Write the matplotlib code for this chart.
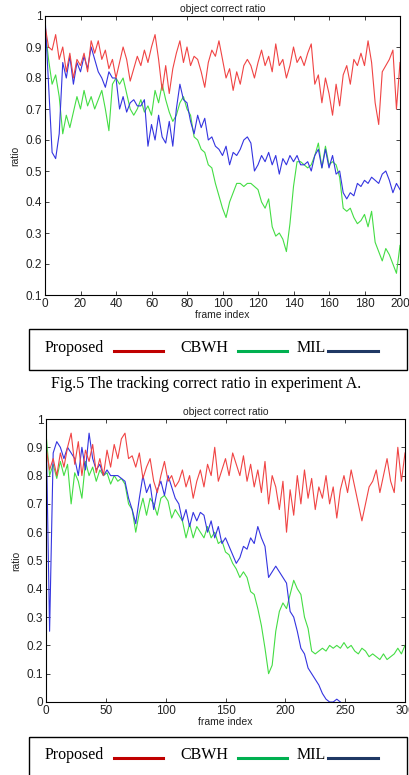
import matplotlib
matplotlib.use('Agg')
import matplotlib.pyplot as plt
import numpy as np
from matplotlib.patches import Rectangle

# ---- experiment A (frames 0..200, every 2 frames)
frames_a = np.arange(0, 201, 2)
proposed_a = [0.97, 0.90, 0.89, 0.94, 0.86, 0.90, 0.82, 0.88, 0.80, 0.86,
              0.84, 0.88, 0.82, 0.92, 0.88, 0.92, 0.86, 0.89, 0.83, 0.86,
              0.80, 0.85, 0.90, 0.86, 0.79, 0.83, 0.87, 0.84, 0.89, 0.85,
              0.90, 0.94, 0.86, 0.76, 0.84, 0.75, 0.83, 0.88, 0.92, 0.85,
              0.90, 0.84, 0.87, 0.86, 0.82, 0.77, 0.85, 0.89, 0.87, 0.92,
              0.86, 0.80, 0.83, 0.76, 0.82, 0.78, 0.84, 0.86, 0.84, 0.80,
              0.85, 0.89, 0.84, 0.87, 0.82, 0.91, 0.84, 0.86, 0.80, 0.84,
              0.90, 0.85, 0.87, 0.84, 0.88, 0.91, 0.78, 0.81, 0.72, 0.80,
              0.75, 0.68, 0.78, 0.71, 0.81, 0.84, 0.78, 0.86, 0.84, 0.88,
              0.84, 0.92, 0.85, 0.72, 0.65, 0.82, 0.84, 0.86, 0.89, 0.70,
              0.85]
cbwh_a = [0.96, 0.86, 0.78, 0.81, 0.74, 0.62, 0.68, 0.64, 0.69, 0.74,
          0.70, 0.76, 0.71, 0.74, 0.70, 0.73, 0.76, 0.70, 0.63, 0.78,
          0.80, 0.78, 0.80, 0.75, 0.70, 0.68, 0.70, 0.73, 0.69, 0.71,
          0.68, 0.76, 0.72, 0.78, 0.73, 0.69, 0.66, 0.68, 0.72, 0.74,
          0.70, 0.68, 0.61, 0.60, 0.57, 0.56, 0.52, 0.51, 0.46, 0.42,
          0.38, 0.35, 0.40, 0.43, 0.46, 0.46, 0.45, 0.46, 0.46, 0.45,
          0.44, 0.40, 0.38, 0.41, 0.32, 0.29, 0.30, 0.28, 0.24, 0.33,
          0.45, 0.53, 0.53, 0.52, 0.51, 0.52, 0.55, 0.59, 0.51, 0.58,
          0.52, 0.53, 0.52, 0.48, 0.38, 0.37, 0.38, 0.35, 0.33, 0.34,
          0.36, 0.32, 0.37, 0.27, 0.24, 0.21, 0.25, 0.23, 0.20, 0.17,
          0.26]
mil_a = [1.00, 0.78, 0.56, 0.54, 0.62, 0.85, 0.80, 0.87, 0.78, 0.85,
         0.82, 0.87, 0.83, 0.90, 0.86, 0.82, 0.80, 0.77, 0.82, 0.80,
         0.80, 0.70, 0.74, 0.69, 0.72, 0.73, 0.71, 0.71, 0.73, 0.58,
         0.65, 0.60, 0.68, 0.61, 0.59, 0.66, 0.58, 0.70, 0.78, 0.73,
         0.72, 0.66, 0.62, 0.68, 0.64, 0.67, 0.60, 0.61, 0.58, 0.57,
         0.55, 0.58, 0.52, 0.56, 0.55, 0.57, 0.60, 0.61, 0.59, 0.50,
         0.52, 0.55, 0.53, 0.56, 0.52, 0.55, 0.49, 0.54, 0.52, 0.55,
         0.53, 0.55, 0.52, 0.52, 0.53, 0.50, 0.55, 0.57, 0.51, 0.57,
         0.51, 0.55, 0.49, 0.50, 0.43, 0.41, 0.43, 0.42, 0.46, 0.45,
         0.47, 0.46, 0.48, 0.47, 0.46, 0.49, 0.50, 0.47, 0.43, 0.46,
         0.44]

# ---- second experiment (frames 0..300, every 3 frames)
frames_b = np.arange(0, 301, 3)
proposed_b = [0.90, 0.82, 0.86, 0.80, 0.88, 0.83, 0.90, 0.95, 0.84, 0.92,
              0.80, 0.89, 0.85, 0.91, 0.81, 0.86, 0.80, 0.89, 0.83, 0.91,
              0.86, 0.93, 0.95, 0.86, 0.87, 0.83, 0.88, 0.79, 0.83, 0.86,
              0.78, 0.74, 0.80, 0.85, 0.78, 0.80, 0.76, 0.78, 0.82, 0.76,
              0.80, 0.72, 0.78, 0.82, 0.76, 0.84, 0.80, 0.90, 0.78, 0.82,
              0.86, 0.80, 0.88, 0.84, 0.80, 0.87, 0.78, 0.84, 0.76, 0.82,
              0.74, 0.85, 0.70, 0.80, 0.76, 0.68, 0.78, 0.60, 0.75, 0.66,
              0.80, 0.70, 0.82, 0.72, 0.79, 0.68, 0.76, 0.72, 0.80, 0.70,
              0.76, 0.65, 0.75, 0.80, 0.74, 0.82, 0.76, 0.70, 0.64, 0.70,
              0.76, 0.78, 0.82, 0.74, 0.80, 0.86, 0.78, 0.74, 0.90, 0.78,
              0.88]
cbwh_b = [0.95, 0.80, 0.84, 0.79, 0.85, 0.80, 0.84, 0.70, 0.81, 0.78,
          0.72, 0.85, 0.80, 0.83, 0.78, 0.82, 0.80, 0.81, 0.77, 0.80,
          0.78, 0.79, 0.77, 0.70, 0.68, 0.60, 0.67, 0.72, 0.66, 0.72,
          0.70, 0.66, 0.72, 0.73, 0.71, 0.65, 0.68, 0.66, 0.64, 0.58,
          0.63, 0.58, 0.62, 0.60, 0.58, 0.62, 0.58, 0.60, 0.56, 0.57,
          0.53, 0.52, 0.49, 0.47, 0.44, 0.46, 0.44, 0.39, 0.38, 0.33,
          0.27, 0.19, 0.10, 0.13, 0.25, 0.32, 0.35, 0.33, 0.38, 0.43,
          0.40, 0.38, 0.30, 0.26, 0.18, 0.17, 0.18, 0.19, 0.18, 0.20,
          0.19, 0.20, 0.19, 0.21, 0.19, 0.20, 0.18, 0.17, 0.19, 0.18,
          0.16, 0.17, 0.16, 0.15, 0.17, 0.15, 0.16, 0.17, 0.19, 0.17,
          0.20]
mil_b = [1.00, 0.25, 0.88, 0.92, 0.90, 0.86, 0.90, 0.88, 0.86, 0.80,
         0.90, 0.82, 0.95, 0.86, 0.82, 0.84, 0.80, 0.82, 0.80, 0.80,
         0.80, 0.79, 0.78, 0.72, 0.68, 0.63, 0.72, 0.80, 0.74, 0.77,
         0.68, 0.75, 0.78, 0.73, 0.80, 0.76, 0.72, 0.70, 0.64, 0.68,
         0.62, 0.67, 0.64, 0.67, 0.66, 0.60, 0.64, 0.58, 0.62, 0.56,
         0.58, 0.55, 0.52, 0.49, 0.51, 0.55, 0.54, 0.58, 0.56, 0.62,
         0.58, 0.55, 0.44, 0.46, 0.48, 0.46, 0.44, 0.42, 0.32, 0.30,
         0.25, 0.19, 0.17, 0.12, 0.10, 0.08, 0.06, 0.03, 0.01, 0.00,
         0.00, 0.01, 0.00]

W, H = 409, 775
fig = plt.figure(figsize=(W / 100, H / 100), dpi=100)
plt.rcParams['font.family'] = ['Liberation Sans', 'DejaVu Sans']

red, green, blue = '#f04444', '#44dd44', '#3434e0'


def make_axes(box, frames, p, c, m, xmax, xticks, ymin):
    l, r, t, b = box
    ax = fig.add_axes([l / W, 1 - b / H, (r - l) / W, (b - t) / H])
    ax.plot(frames, c, color=green, lw=0.8)
    ax.plot(frames[:len(m)], m, color=blue, lw=0.8)
    ax.plot(frames, p, color=red, lw=0.8)
    ax.set_xlim(0, xmax)
    ax.set_ylim(ymin, 1)
    ax.set_xticks(xticks)
    yt = np.round(np.arange(ymin, 1.001, 0.1), 1)
    ax.set_yticks(yt)
    ax.set_yticklabels(['%g' % v for v in yt])
    ax.tick_params(direction='in', top=True, right=True, labelsize=8.5,
                   length=3, width=0.6, pad=2, colors='#222222')
    for s in ax.spines.values():
        s.set_linewidth(0.8)
    ax.set_title('object correct ratio', fontsize=7.5, pad=3, color='#222222')
    ax.set_xlabel('frame index', fontsize=7.5, labelpad=0, color='#222222')
    ax.set_ylabel('ratio', fontsize=7.5, labelpad=4, color='#222222')
    return ax


make_axes((45, 400, 16, 295), frames_a, proposed_a, cbwh_a, mil_a,
          200, np.arange(0, 201, 20), 0.1)
make_axes((46, 405, 419, 702), frames_b, proposed_b, cbwh_b, mil_b,
          300, np.arange(0, 301, 50), 0.0)

# overlay in pixel coordinates for legend boxes and caption
ov = fig.add_axes([0, 0, 1, 1], zorder=-1)
ov.set_xlim(0, W)
ov.set_ylim(H, 0)
ov.axis('off')


def legend_box(top, bottom, ytext):
    ov.add_patch(Rectangle((29, top), 378, bottom - top, fill=False,
                           lw=1.0, ec='black'))
    kw = dict(fontsize=11.5, family='Liberation Serif', va='center')
    ov.text(45, ytext, 'Proposed', **kw)
    ov.plot([114, 163], [ytext + 3, ytext + 3], color='#c00000', lw=2.2)
    ov.text(180, ytext, 'CBWH', **kw)
    ov.plot([238, 287], [ytext + 3, ytext + 3], color='#00b050', lw=2.2)
    ov.text(297, ytext, 'MIL', **kw)
    ov.plot([328, 378], [ytext + 3, ytext + 3], color='#1f3864', lw=2.2)


legend_box(329, 370, 348)
legend_box(737, 790, 755)
ov.text(206, 384, 'Fig.5 The tracking correct ratio in experiment A.',
        fontsize=11.5, family='Liberation Serif', ha='center', va='center')

fig.savefig('out.png', dpi=100)
